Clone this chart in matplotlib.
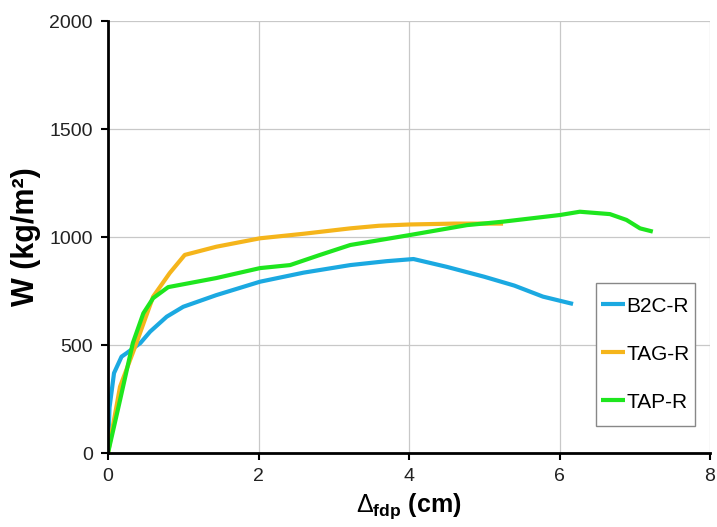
import matplotlib
matplotlib.use("Agg")
import matplotlib.pyplot as plt
from matplotlib.patches import Rectangle

plt.rcParams["font.family"] = ["Liberation Sans", "DejaVu Sans"]
plt.rcParams["mathtext.fontset"] = "custom"
plt.rcParams["mathtext.rm"] = "Liberation Sans"
plt.rcParams["mathtext.bf"] = "Liberation Sans:bold"
plt.rcParams["mathtext.it"] = "Liberation Sans:bold"

# B2C-R
b2c_x = [0, 0.02, 0.08, 0.18, 0.25, 0.43, 0.56, 0.78, 1.0, 1.44, 2.02, 2.6, 3.22, 3.7, 4.06, 4.5, 5.0, 5.4, 5.78, 6.18]
b2c_y = [0, 210, 370, 446, 463, 509, 562, 631, 677, 731, 793, 835, 870, 888, 898, 862, 816, 775, 724, 690]

# TAG-R
tag_x = [0, 0.16, 0.36, 0.6, 0.82, 1.02, 1.44, 2.02, 2.6, 3.22, 3.6, 4.01, 4.6, 5.25]
tag_y = [0, 307, 492, 724, 833, 917, 955, 994, 1015, 1040, 1052, 1058, 1062, 1062]

# TAP-R
tap_x = [0, 0.16, 0.33, 0.47, 0.6, 0.8, 1.44, 2.02, 2.42, 2.8, 3.22, 4.01, 4.77, 5.25, 6.01, 6.27, 6.67, 6.89, 7.07, 7.24]
tap_y = [0, 245, 509, 647, 717, 768, 810, 856, 870, 915, 963, 1009, 1055, 1071, 1102, 1117, 1106, 1079, 1040, 1025]

fig = plt.figure(figsize=(7.17, 5.27), dpi=100)
ax = fig.add_axes([108 / 717, 1 - 453 / 527, 602 / 717, 432 / 527])

ax.plot(b2c_x, b2c_y, color="#1ba9e1", lw=3, label="B2C-R", solid_capstyle="butt")
ax.plot(tag_x, tag_y, color="#f5b51b", lw=3, label="TAG-R", solid_capstyle="butt")
ax.plot(tap_x, tap_y, color="#1ee61e", lw=3, label="TAP-R", solid_capstyle="butt")

ax.set_xlim(0, 8)
ax.set_ylim(0, 2000)
ax.set_xticks([0, 2, 4, 6, 8])
ax.set_yticks([0, 500, 1000, 1500, 2000])
ax.grid(True, color="#c8c8c8", lw=0.9)
ax.set_axisbelow(True)
for s in ["top", "right"]:
    ax.spines[s].set_visible(False)
for s in ["left", "bottom"]:
    ax.spines[s].set_linewidth(2)
ax.tick_params(direction="out", length=5, width=1.5, labelsize=14, pad=6,
               labelcolor="#222222")

ax.set_ylabel("W (kg/m²)", fontsize=22, fontweight="bold", labelpad=6)
ax.set_xlabel(r"$\Delta_{\mathbf{fdp}}$ (cm)", fontsize=18, fontweight="bold", labelpad=4)

# legend frame: taller than the matplotlib one, drawn by hand
ax.add_patch(Rectangle((0.8106, 0.0625), 0.1645, 0.331, transform=ax.transAxes,
                       facecolor="white", edgecolor="#888888", lw=1, zorder=4))
leg = ax.legend(loc="center", bbox_to_anchor=(0.893, 0.229), fontsize=15,
                handlelength=1.15, handletextpad=0.05, labelspacing=1.39,
                borderpad=0.2, frameon=False)
leg.set_zorder(5)

fig.savefig("out.png", dpi=100)
